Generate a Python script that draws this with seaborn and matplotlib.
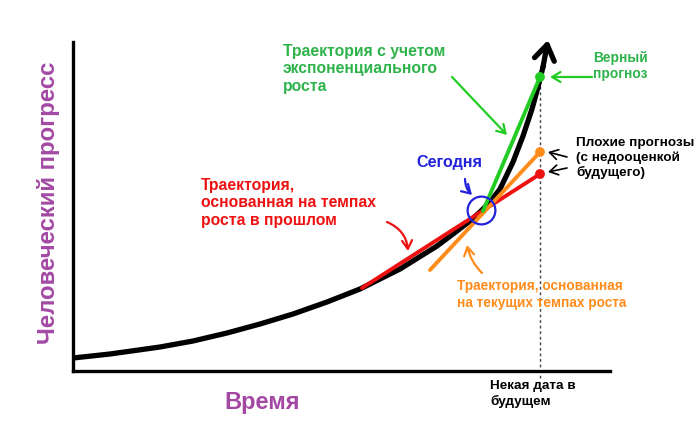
import matplotlib
matplotlib.use("Agg")
import matplotlib.pyplot as plt
import seaborn as sns

# Black "progress" curve (arbitrary time / progress units)
time = [0, 37, 87, 120, 154, 187, 220, 254, 287, 327, 364, 380, 397, 408,
        417, 427, 440, 450, 459, 465, 470, 475]
progress = [13, 17, 24, 30, 38, 47, 57, 69, 82, 102, 125, 137, 150, 160,
            169, 182, 209, 235, 262, 284, 304, 331]

# Forecast lines: start and end points
green_t, green_p = [410, 467], [160, 294]
orange_t, orange_p = [357, 467], [101, 219]
red_t, red_p = [289, 467], [83, 197]

today_t, today_p = 408, 161
future_t = 467

GREEN_LINE = "#22cc22"
GREEN_TEXT = "#2db34a"
ORANGE = "#ff8c1a"
RED = "#ee1111"
BLUE = "#2222dd"
PURPLE = "#a349a4"

sns.set_theme(style="white")
plt.rcParams['font.family'] = ['Liberation Sans', 'DejaVu Sans']

fig = plt.figure(figsize=(7, 4.3), dpi=100)
ax = fig.add_axes([73 / 700, 59 / 430, 537 / 700, 329 / 430])
ax.set_xlim(0, 537)
ax.set_ylim(0, 329)

# axes lines
for side in ["top", "right"]:
    ax.spines[side].set_visible(False)
for side in ["left", "bottom"]:
    ax.spines[side].set_color("black")
    ax.spines[side].set_linewidth(2.4)
ax.set_xticks([])
ax.set_yticks([])

# dashed "future date" line
ax.plot([future_t, future_t], [-7, green_p[1]], color="#444444", lw=1,
        ls=(0, (2, 2)), clip_on=False, zorder=1)

# main curve with arrow head
sns.lineplot(x=time[:-1], y=progress[:-1], ax=ax, color="black", lw=3.8,
             zorder=3, sort=False)
ax.annotate("", xy=(time[-1], progress[-1]), xytext=(time[-2], progress[-2]),
            arrowprops=dict(arrowstyle="->,head_length=0.9,head_width=0.6",
                            color="black", lw=3.8, shrinkA=0, shrinkB=0),
            zorder=3, annotation_clip=False)

# forecast lines
sns.lineplot(x=red_t, y=red_p, ax=ax, color=RED, lw=2.8, zorder=4)
sns.lineplot(x=orange_t, y=orange_p, ax=ax, color=ORANGE, lw=2.8, zorder=4)
sns.lineplot(x=green_t, y=green_p, ax=ax, color=GREEN_LINE, lw=2.8, zorder=4)

# end points of the forecasts
sns.scatterplot(x=[future_t] * 3, y=[green_p[1], orange_p[1], red_p[1]],
                hue=["g", "o", "r"], palette=[GREEN_LINE, ORANGE, RED],
                s=50, ax=ax, legend=False, zorder=5, linewidth=0)

# "today" circle
ax.plot(today_t, today_p, marker="o", ms=20, mfc="none", mec=BLUE, mew=1.6,
        zorder=6)

# axis titles
ax.text(-24, 168, "Человеческий прогресс", color=PURPLE, fontsize=17.3,
        fontweight="bold", rotation=90, ha="center", va="center")
ax.text(189, -31, "Время", color=PURPLE, fontsize=17, fontweight="bold",
        ha="center", va="center")
ax.text(417, -9, "Некая дата в\nбудущем", fontsize=9.7, fontweight="bold",
        ha="left", va="top", color="black", linespacing=1.3)

# annotations
ax.text(210, 327, "Траектория с учетом\nэкспоненциального\nроста",
        color=GREEN_TEXT, fontsize=11.3, fontweight="bold", ha="left",
        va="top", linespacing=1.2)
ax.text(520, 320, "Верный\nпрогноз", color=GREEN_TEXT, fontsize=9.9,
        fontweight="bold", ha="left", va="top", linespacing=1.2)
ax.text(503, 234, "Плохие прогнозы\n(с недооценкой\nбудущего)", color="black",
        fontsize=9.7, fontweight="bold", ha="left", va="top", linespacing=1.25)
ax.text(376, 209, "Сегодня", color=BLUE, fontsize=11.6, fontweight="bold",
        ha="center", va="center")
ax.text(128, 193, "Траектория,\nоснованная на темпах\nроста в прошлом",
        color=RED, fontsize=11.3, fontweight="bold", ha="left", va="top",
        linespacing=1.2)
ax.text(384, 92, "Траектория, основанная\nна текущих темпах роста",
        color=ORANGE, fontsize=9.8, fontweight="bold", ha="left", va="top",
        linespacing=1.3)

# pointer arrows
def pointer(start, end, color, rad=0.0, lw=1.6):
    ax.annotate("", xy=end, xytext=start,
                arrowprops=dict(arrowstyle="->,head_length=0.5,head_width=0.3",
                                color=color, lw=lw, shrinkA=0, shrinkB=0,
                                connectionstyle="arc3,rad=%s" % rad),
                annotation_clip=False, zorder=7)

pointer((379, 294), (434, 236), GREEN_LINE)
pointer((519, 294), (477, 294), GREEN_LINE)
pointer((494, 214), (475, 219), "black", lw=1.2)
pointer((494, 203), (475, 199), "black", lw=1.2)
pointer((392, 192), (399, 176), BLUE, rad=0.2)
pointer((314, 149), (335, 120), RED, rad=-0.3)
pointer((409, 98), (394, 126), ORANGE, rad=-0.15)

fig.savefig("out.png", dpi=100, facecolor="white")
